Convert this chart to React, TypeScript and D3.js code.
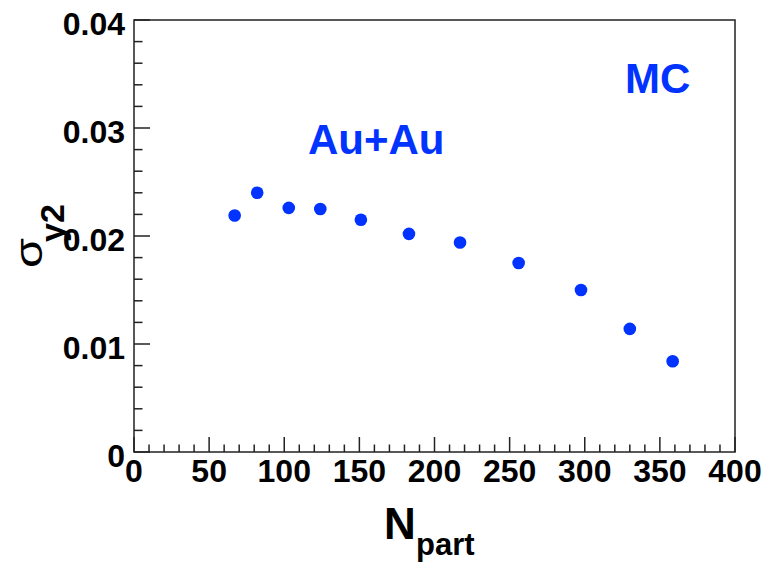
import React from "react";
import * as d3 from "d3";

const npart = [67, 82, 103, 124, 151, 183, 217, 256, 297.5, 330, 358.5];
const sigmaV2 = [0.0219, 0.024, 0.0226, 0.0225, 0.0215, 0.0202, 0.0194, 0.0175, 0.015, 0.0114, 0.0084];
const xTicks = [0, 50, 100, 150, 200, 250, 300, 350, 400];
const xTickLabels = ["0", "50", "100", "150", "200", "250", "300", "350", "400"];
const yTicks = [0, 0.01, 0.02, 0.03, 0.04];
const yTickLabels = ["0", "0.01", "0.02", "0.03", "0.04"];

const W = 771;
const H = 563;
const L = 134, R = 735, T = 20, B = 452;
const BLUE = "#0033ff";
const FONT = "'Liberation Sans', Arial, Helvetica, sans-serif";

export default function App() {
  const x = d3.scaleLinear().domain([0, 400]).range([L, R]);
  const y = d3.scaleLinear().domain([0, 0.04]).range([B, T]);
  const xMinor = d3.range(0, 401, 10).filter((v) => v % 50 !== 0);
  const yMinor = d3.range(0, 21).map((i) => i * 0.002).filter((_, i) => i % 5 !== 0);

  return (
    <svg width={W} height={H} style={{ position: "absolute", left: 0, top: 0, background: "#fff" }} fontFamily={FONT}>
      <rect x={0} y={0} width={W} height={H} fill="#fff" />
      {/* frame */}
      <rect x={L} y={T} width={R - L} height={B - T} fill="none" stroke="#222" strokeWidth={1.5} />
      {/* x ticks */}
      {xTicks.map((v) => (
        <line key={"xt" + v} x1={x(v)} x2={x(v)} y1={B} y2={B - 15} stroke="#222" strokeWidth={1.5} />
      ))}
      {xMinor.map((v) => (
        <line key={"xm" + v} x1={x(v)} x2={x(v)} y1={B} y2={B - 7.5} stroke="#222" strokeWidth={1.5} />
      ))}
      {/* y ticks */}
      {yTicks.map((v) => (
        <line key={"yt" + v} x1={L} x2={L + 16} y1={y(v)} y2={y(v)} stroke="#222" strokeWidth={1.5} />
      ))}
      {yMinor.map((v) => (
        <line key={"ym" + v} x1={L} x2={L + 8.5} y1={y(v)} y2={y(v)} stroke="#222" strokeWidth={1.5} />
      ))}
      {/* tick labels */}
      {xTicks.map((v, i) => (
        <text key={"xl" + v} x={x(v)} y={B + 30} textAnchor="middle" fontSize={32} fontWeight="bold" fill="#000">
          {xTickLabels[i]}
        </text>
      ))}
      {yTicks.map((v, i) => (
        <text key={"yl" + v} x={L - 9} y={y(v) + 15} textAnchor="end" fontSize={32} fontWeight="bold" fill="#000">
          {yTickLabels[i]}
        </text>
      ))}
      {/* x title */}
      <text x={384} y={539} fontSize={44} fontWeight="bold" fill="#000">N</text>
      <text x={416} y={555} fontSize={31} fontWeight="bold" fill="#000">part</text>
      {/* y title */}
      <text transform={`translate(42,268) rotate(-90)`} fontSize={38} fill="#000" textLength={30} lengthAdjust="spacingAndGlyphs">σ</text>
      <text transform={`translate(64,242) rotate(-90)`} fontSize={34} fontWeight="bold" fill="#000">y2</text>
      {/* annotations */}
      <text x={308} y={154} fontSize={42} fontWeight="bold" fill={BLUE}>Au+Au</text>
      <text x={625} y={93} fontSize={42} fontWeight="bold" fill={BLUE}>MC</text>
      {/* markers */}
      {npart.map((v, i) => (
        <circle key={"p" + i} cx={x(v)} cy={y(sigmaV2[i])} r={6.3} fill={BLUE} />
      ))}
    </svg>
  );
}
